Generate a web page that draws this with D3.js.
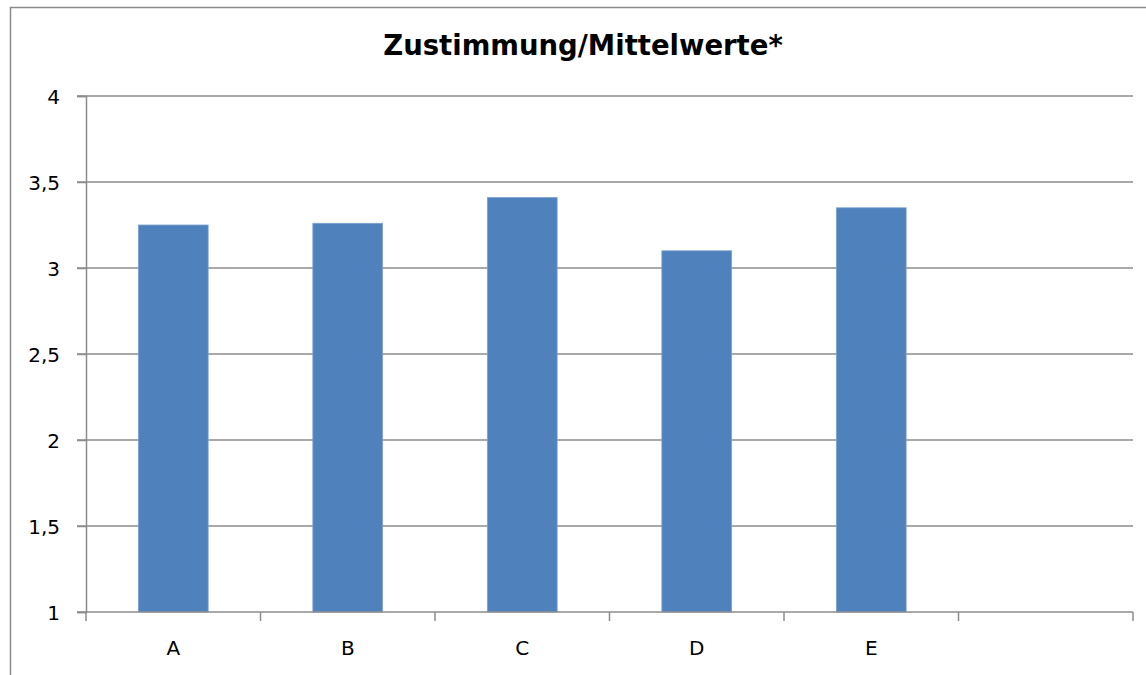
<!DOCTYPE html>
<html>
<head>
<meta charset="utf-8">
<script src="https://cdn.jsdelivr.net/npm/d3@7"></script>
<style>
  body { margin: 0; background: #fff; }
  svg text { font-family: Tahoma, "DejaVu Sans", sans-serif; fill: #000; }
</style>
</head>
<body>
<svg id="chart" width="1146" height="675"></svg>
<script>
// data
var categories = ["A", "B", "C", "D", "E", ""];
var values = [3.25, 3.26, 3.41, 3.10, 3.35, null];
var yTicks = [1, 1.5, 2, 2.5, 3, 3.5, 4];
var title = "Zustimmung/Mittelwerte*";

var svg = d3.select("#chart");
var gridColor = "#8c8c8c";

// outer chart frame (runs off the right and bottom edge)
svg.append("rect")
	.attr("x", 10.5).attr("y", 7.5)
	.attr("width", 1160).attr("height", 700)
	.attr("fill", "none")
	.attr("stroke", "#8c8c8c")
	.attr("stroke-width", 1.5);

var plot = { left: 86, right: 1133, top: 96, bottom: 612 };

var x = d3.scaleBand()
	.domain(d3.range(categories.length))
	.range([plot.left, plot.right])
	.paddingInner(0.6)
	.paddingOuter(0.3);

var xTick = d3.scaleBand()
	.domain(d3.range(categories.length))
	.range([plot.left, plot.right]);

var y = d3.scaleLinear()
	.domain([1, 4])
	.range([plot.bottom, plot.top]);

// gridlines
svg.append("g")
	.selectAll("line")
	.data(yTicks.filter(function(d){ return d > 1; }))
	.join("line")
	.attr("x1", plot.left - 9).attr("x2", plot.right)
	.attr("y1", function(d){ return y(d); })
	.attr("y2", function(d){ return y(d); })
	.attr("stroke", gridColor)
	.attr("stroke-width", 1.5);

// y axis
var yAxis = d3.axisLeft(y)
	.tickValues(yTicks)
	.tickSize(9)
	.tickPadding(17)
	.tickFormat(function(d){ return String(d).replace(".", ","); });

var gy = svg.append("g")
	.attr("transform", "translate(" + plot.left + ",0)")
	.call(yAxis);
gy.attr("font-size", 20).attr("font-family", null);
gy.select(".domain").attr("stroke", gridColor).attr("stroke-width", 1.5);
gy.selectAll(".tick line").attr("stroke", gridColor).attr("stroke-width", 1.5);
gy.selectAll("text").attr("dy", "0.38em").style("font-size", "20px");

// bars
svg.append("g")
	.selectAll("rect")
	.data(values.map(function(v, i){ return { i: i, v: v }; }).filter(function(d){ return d.v != null; }))
	.join("rect")
	.attr("x", function(d){ return x(d.i); })
	.attr("width", x.bandwidth())
	.attr("y", function(d){ return y(d.v); })
	.attr("height", function(d){ return y(1) - y(d.v); })
	.attr("fill", "#4f81bd")
	.attr("stroke", "#7ea2cf")
	.attr("stroke-width", 0.8);

// x axis
var gx = svg.append("g")
	.attr("transform", "translate(0," + plot.bottom + ")");
gx.append("line")
	.attr("x1", plot.left - 9).attr("x2", plot.right)
	.attr("stroke", gridColor).attr("stroke-width", 1.5);
gx.selectAll("line.tick")
	.data(d3.range(categories.length + 1))
	.join("line")
	.attr("class", "tick")
	.attr("x1", function(d){ return d < categories.length ? xTick(d) : plot.right; })
	.attr("x2", function(d){ return d < categories.length ? xTick(d) : plot.right; })
	.attr("y1", 0).attr("y2", 9)
	.attr("stroke", gridColor).attr("stroke-width", 1.5);
gx.selectAll("text")
	.data(categories)
	.join("text")
	.attr("x", function(d, i){ return xTick(i) + xTick.bandwidth() / 2; })
	.attr("y", 43)
	.attr("text-anchor", "middle")
	.style("font-size", "20px")
	.text(function(d){ return d; });

// title
svg.append("text")
	.attr("x", 583).attr("y", 55)
	.attr("text-anchor", "middle")
	.style("font-size", "27.5px")
	.attr("font-weight", "bold")
	.text(title);
</script>
</body>
</html>
